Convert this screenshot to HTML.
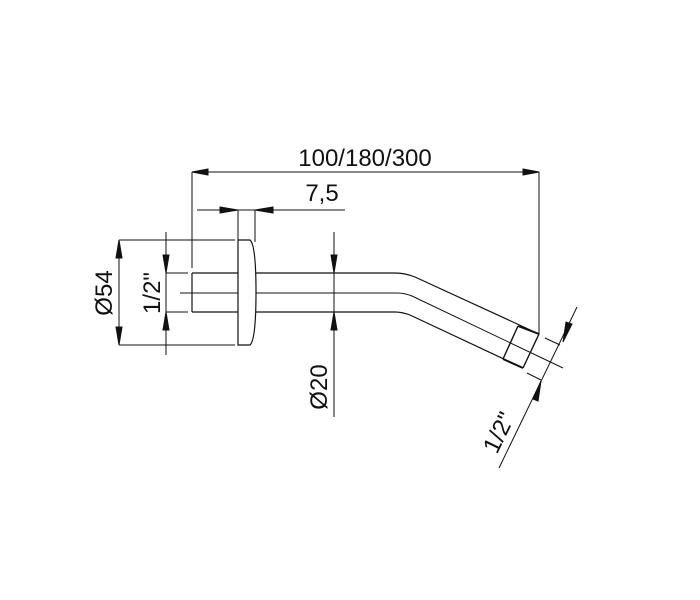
<!DOCTYPE html>
<html><head><meta charset="utf-8"><style>
html,body{margin:0;padding:0;background:#fff;}
svg{display:block;}
text{font-family:"Liberation Sans",Arial,sans-serif;fill:#111;}
</style></head><body>
<svg width="700" height="600" viewBox="0 0 700 600" xmlns="http://www.w3.org/2000/svg">
<g stroke="#111" stroke-width="1" fill="none">
<line x1="192" y1="172" x2="539" y2="172"/>
<path d="M208,169 L192,172 L208,175 z M523,169 L539,172 L523,175 z" fill="#111"/>
<line x1="192" y1="172" x2="192" y2="268"/>
<line x1="539" y1="172" x2="539" y2="334"/>
<line x1="197" y1="210" x2="345" y2="210"/>
<path d="M220,207 L238,210 L220,213 z M273,207 L255,210 L273,213 z" fill="#111"/>
<line x1="238" y1="210" x2="238" y2="240"/>
<line x1="255" y1="210" x2="255" y2="242"/>
<path d="M238,240 L250,240 Q256,245 256,292 Q256,340 250,345 L238,345 Z" stroke-width="1.2"/>
<path d="M192,273 L238,273 M256,273 L395,273 Q405,273 415,277 L539,334" stroke-width="1.2"/>
<path d="M192,312 L238,312 M256,312 L395,312 Q402,312 410,315 L523,368" stroke-width="1.2"/>
<line x1="192" y1="273" x2="192" y2="312" stroke-width="1.2"/>
<path d="M180,293 L238,293 M256,293 L398,293 Q404,293 412,296 L563,368"/>
<path d="M518,326 L503,359 M539,334 L523,368" stroke-width="1.4"/>
<path d="M518,326 L539,334 M503,359 L523,368" stroke-width="2"/>
<line x1="119" y1="240" x2="235" y2="240"/>
<line x1="119" y1="345" x2="235" y2="345"/>
<line x1="119" y1="240" x2="119" y2="345"/>
<path d="M116,258 L119,240 L122,258 z M116,327 L119,345 L122,327 z" fill="#111"/>
<line x1="166" y1="232" x2="166" y2="355"/>
<line x1="166" y1="273" x2="188" y2="273"/>
<line x1="166" y1="312" x2="188" y2="312"/>
<path d="M163,255 L166,273 L169,255 z M163,330 L166,312 L169,330 z" fill="#111"/>
<line x1="334" y1="232" x2="334" y2="417"/>
<path d="M331,255 L334,273 L337,255 z M331,330 L334,312 L337,330 z" fill="#111"/>
<line x1="577" y1="307" x2="499" y2="468"/>
<line x1="545" y1="338" x2="560" y2="345"/>
<line x1="527" y1="373" x2="541" y2="380"/>
<path d="M572,324 L563,342 L566,322 z M533,399 L541,381 L538,401 z" fill="#111"/>
</g>
<text x="365" y="166" font-size="24" text-anchor="middle">100/180/300</text>
<text x="322" y="201" font-size="24" text-anchor="middle">7,5</text>
<text transform="translate(112,293) rotate(-90)" font-size="24" text-anchor="middle">Ø54</text>
<text transform="translate(160,293) rotate(-90)" font-size="24" text-anchor="middle">1/2"</text>
<text transform="translate(327,387) rotate(-90)" font-size="24" text-anchor="middle">Ø20</text>
<text transform="translate(506,436) rotate(-64)" font-size="24" text-anchor="middle">1/2"</text>
</svg>
</body></html>
